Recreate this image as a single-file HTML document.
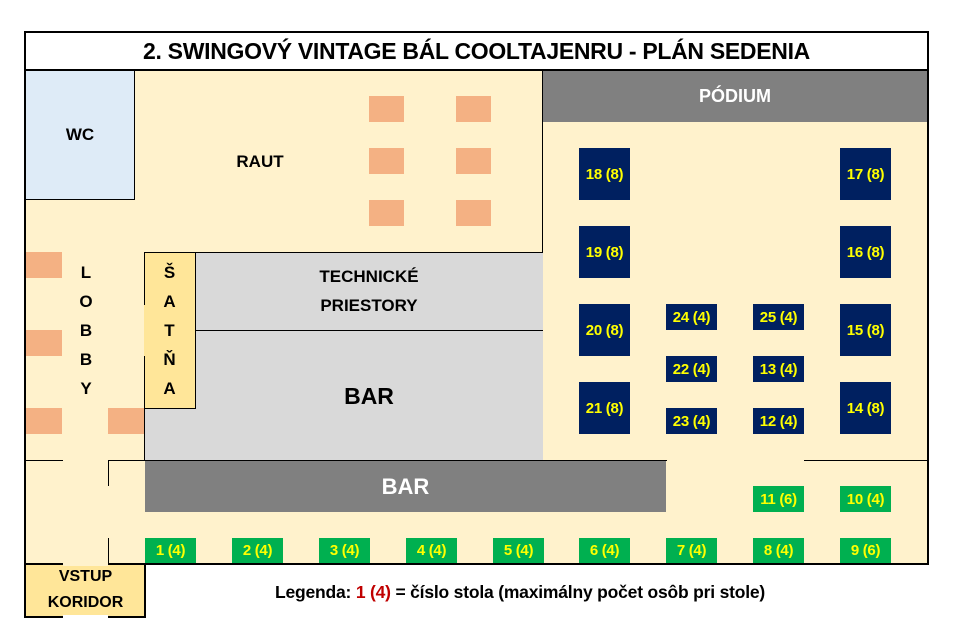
<!DOCTYPE html>
<html><head><meta charset="utf-8"><style>
body{margin:0;width:959px;height:642px;background:#fff;position:relative;overflow:hidden;font-family:"Liberation Sans",sans-serif;font-weight:bold}
div{position:absolute;box-sizing:border-box}
.c{display:flex;align-items:center;justify-content:center;text-align:center}
.b{background:#002060;color:#ffff00;font-size:15px;letter-spacing:-0.3px}
.g{background:#00b050;color:#ffff00;font-size:15px;letter-spacing:-0.3px}
.s{background:#f4b183}
.h{background:#000;height:2px}
.v{background:#000;width:2px}
</style></head><body>
<div style="left:26px;top:70px;width:901px;height:493px;background:#fff2cc"></div>
<div class="c" style="left:26px;top:32px;width:901px;height:38px;font-size:23px;letter-spacing:-0.3px;white-space:nowrap">2. SWINGOVÝ VINTAGE BÁL COOLTAJENRU - PLÁN SEDENIA</div>
<div class="c" style="left:26px;top:70px;width:109px;height:130px;background:#deebf7;border-right:1px solid #000;border-bottom:1px solid #000;font-size:17px">WC</div>
<div class="c" style="left:200px;top:145px;width:120px;height:34px;font-size:17px">RAUT</div>
<div class="s" style="left:369px;top:96px;width:35px;height:26px"></div>
<div class="s" style="left:456px;top:96px;width:35px;height:26px"></div>
<div class="s" style="left:369px;top:148px;width:35px;height:26px"></div>
<div class="s" style="left:456px;top:148px;width:35px;height:26px"></div>
<div class="s" style="left:369px;top:200px;width:35px;height:26px"></div>
<div class="s" style="left:456px;top:200px;width:35px;height:26px"></div>
<div class="c" style="left:543px;top:70px;width:384px;height:52px;background:#808080;color:#fff;font-size:18px">PÓDIUM</div>
<div class="v" style="left:542px;top:70px;height:390px;width:1px"></div>
<div style="left:145px;top:252px;width:398px;height:208px;background:#d9d9d9;border-top:1px solid #000"></div>
<div class="h" style="left:195px;top:330px;width:348px;height:1px"></div>
<div class="c" style="left:195px;top:258px;width:348px;height:66px;font-size:17px;line-height:29px">TECHNICKÉ<br>PRIESTORY</div>
<div class="c" style="left:195px;top:370px;width:348px;height:52px;font-size:23px">BAR</div>
<div class="c" style="left:144px;top:252px;width:52px;height:157px;background:#ffe699;border:1px solid #000;border-left:none;font-size:17px;line-height:29px;flex-direction:column">Š<br>A<br>T<br>Ň<br>A</div>
<div class="v" style="left:144px;top:252px;height:53px;width:1px"></div>
<div class="v" style="left:144px;top:356px;height:104px;width:1px"></div>
<div class="c" style="left:66px;top:258px;width:40px;height:145px;font-size:17px;line-height:29px;flex-direction:column">L<br>O<br>B<br>B<br>Y</div>
<div class="s" style="left:26px;top:252px;width:36px;height:26px"></div>
<div class="s" style="left:26px;top:330px;width:36px;height:26px"></div>
<div class="s" style="left:26px;top:408px;width:36px;height:26px"></div>
<div class="s" style="left:108px;top:408px;width:36px;height:26px"></div>
<div class="h" style="left:26px;top:460px;width:37px;height:1px"></div>
<div class="h" style="left:108px;top:460px;width:559px;height:1px"></div>
<div class="h" style="left:804px;top:460px;width:123px;height:1px"></div>
<div class="v" style="left:108px;top:460px;height:26px;width:1px"></div>
<div class="v" style="left:108px;top:538px;height:25px;width:1px"></div>
<div class="c" style="left:145px;top:461px;width:521px;height:51px;background:#808080;color:#fff;font-size:22px">BAR</div>
<div class="c" style="left:26px;top:564px;width:119px;height:52px;background:#ffe699;font-size:16px;line-height:26px">VSTUP<br>KORIDOR</div>
<!-- frame -->
<div style="left:24px;top:31px;width:905px;height:534px;border:2px solid #000"></div>
<div class="h" style="left:24px;top:69px;width:905px"></div>
<div style="left:24px;top:563px;width:122px;height:55px;border:2px solid #000;border-top:none"></div>
<div style="left:63px;top:562px;width:45px;height:4px;background:#fff2cc"></div>
<div style="left:63px;top:615px;width:45px;height:3px;background:#fff"></div>
<!-- blue tables -->
<div class="c b" style="left:579px;top:148px;width:51px;height:52px">18 (8)</div>
<div class="c b" style="left:579px;top:226px;width:51px;height:52px">19 (8)</div>
<div class="c b" style="left:579px;top:304px;width:51px;height:52px">20 (8)</div>
<div class="c b" style="left:579px;top:382px;width:51px;height:52px">21 (8)</div>
<div class="c b" style="left:840px;top:148px;width:51px;height:52px">17 (8)</div>
<div class="c b" style="left:840px;top:226px;width:51px;height:52px">16 (8)</div>
<div class="c b" style="left:840px;top:304px;width:51px;height:52px">15 (8)</div>
<div class="c b" style="left:840px;top:382px;width:51px;height:52px">14 (8)</div>
<div class="c b" style="left:666px;top:304px;width:51px;height:26px">24 (4)</div>
<div class="c b" style="left:666px;top:356px;width:51px;height:26px">22 (4)</div>
<div class="c b" style="left:666px;top:408px;width:51px;height:26px">23 (4)</div>
<div class="c b" style="left:753px;top:304px;width:51px;height:26px">25 (4)</div>
<div class="c b" style="left:753px;top:356px;width:51px;height:26px">13 (4)</div>
<div class="c b" style="left:753px;top:408px;width:51px;height:26px">12 (4)</div>
<!-- green -->
<div class="c g" style="left:753px;top:486px;width:51px;height:26px">11 (6)</div>
<div class="c g" style="left:840px;top:486px;width:51px;height:26px">10 (4)</div>
<div class="c g" style="left:145px;top:538px;width:51px;height:25px">1 (4)</div>
<div class="c g" style="left:232px;top:538px;width:51px;height:25px">2 (4)</div>
<div class="c g" style="left:319px;top:538px;width:51px;height:25px">3 (4)</div>
<div class="c g" style="left:406px;top:538px;width:51px;height:25px">4 (4)</div>
<div class="c g" style="left:493px;top:538px;width:51px;height:25px">5 (4)</div>
<div class="c g" style="left:579px;top:538px;width:51px;height:25px">6 (4)</div>
<div class="c g" style="left:666px;top:538px;width:51px;height:25px">7 (4)</div>
<div class="c g" style="left:753px;top:538px;width:51px;height:25px">8 (4)</div>
<div class="c g" style="left:840px;top:538px;width:51px;height:25px">9 (6)</div>
<div class="c" style="left:210px;top:578px;width:620px;height:28px;font-size:17.5px;letter-spacing:-0.2px;white-space:nowrap">Legenda:&nbsp;<span style="color:#c00000">1 (4)</span>&nbsp;= číslo stola (maximálny počet osôb pri stole)</div>
</body></html>
